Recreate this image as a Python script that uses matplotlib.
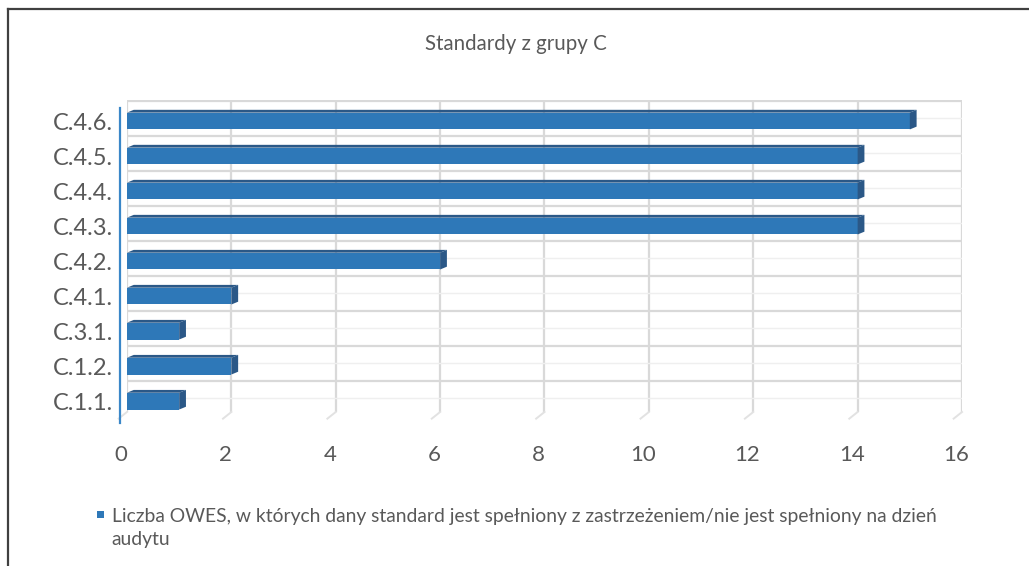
import numpy as np
import matplotlib.pyplot as plt
import matplotlib.transforms as mtransforms
from matplotlib.patches import Polygon, Rectangle
from matplotlib.lines import Line2D

categories = ["C.1.1.", "C.1.2.", "C.3.1.", "C.4.1.", "C.4.2.", "C.4.3.", "C.4.4.", "C.4.5.", "C.4.6."]
counts = [1, 2, 1, 2, 6, 14, 14, 14, 15]
x_ticks = [0, 2, 4, 6, 8, 10, 12, 14, 16]
title = "Standardy z grupy C"
legend_text = ("Liczba OWES, w których dany standard jest spełniony z zastrzeżeniem/nie jest spełniony na dzień\n"
               "audytu")

plt.rcParams["font.family"] = ["Lato", "DejaVu Sans"]
TEXT = "#595959"
BAR = "#2e78b8"
BAR_DARK = "#2b5887"
GRID = "#d9d9d9"

fig = plt.figure(figsize=(10.29, 5.66), dpi=100)
ax = fig.add_axes([0.1234, 0.2721, 0.8115, 0.5512])

y = np.arange(len(categories))
h = 0.48
dx, dy = 0.13, 0.08  # depth of the fake 3D bar faces

ax.barh(y, counts, height=h, color=BAR, zorder=3)
for yi, v in zip(y, counts):
    top = Polygon([(0, yi + h / 2), (v, yi + h / 2), (v + dx, yi + h / 2 + dy), (dx, yi + h / 2 + dy)],
                  closed=True, facecolor=BAR_DARK, edgecolor="none", zorder=3)
    side = Polygon([(v, yi - h / 2), (v, yi + h / 2), (v + dx, yi + h / 2 + dy), (v + dx, yi - h / 2 + dy)],
                   closed=True, facecolor=BAR_DARK, edgecolor="none", zorder=3)
    ax.add_patch(top)
    ax.add_patch(side)

ax.set_xlim(0, 16)
ax.set_ylim(-0.31, 8.6)

# back wall grid plus short floor edges
for xt in x_ticks:
    ax.axvline(xt, color=GRID, lw=1.6, zorder=1)
    ax.plot([xt, xt - 0.16], [-0.31, -0.5], color="#e2e2e2", lw=1.4, clip_on=False, zorder=1)
for b in np.arange(-0.5, len(categories)):
    ax.axhline(b + 0.08, color=GRID, lw=1.6, zorder=1)
    ax.axhline(b + 0.58, color="#efefef", lw=1.0, zorder=1)

ax.set_xticks(x_ticks)
ax.set_xticklabels([str(t) for t in x_ticks])
ax.set_yticks(y)
ax.set_yticklabels(categories)
ax.tick_params(axis="x", length=0, pad=24, labelsize=16, labelcolor=TEXT)
ax.tick_params(axis="y", length=0, pad=5, labelsize=17, labelcolor=TEXT)

# x labels sit a little to the left, as on a tilted floor
shift = mtransforms.ScaledTranslation(-6 / 100, 0, fig.dpi_scale_trans)
for lbl in ax.get_xticklabels():
    lbl.set_transform(lbl.get_transform() + shift)

for s in ["top", "right", "bottom"]:
    ax.spines[s].set_visible(False)
ax.spines["left"].set_color("#3a87c8")
ax.spines["left"].set_linewidth(1.6)
ax.spines["left"].set_position(("outward", 5))
ax.spines["left"].set_bounds(-0.63, 8.37)

fig.text(0.5015, 0.923, title, ha="center", va="center", fontsize=14.8, color=TEXT)

# legend
fig.patches.append(Rectangle((0.0943, 0.0848), 0.0068, 0.0124, transform=fig.transFigure,
                             facecolor=BAR, edgecolor="none"))
fig.text(0.1085, 0.1025, legend_text, ha="left", va="top", fontsize=13.9, color=TEXT, linespacing=1.45)

# chart border
fig.add_artist(Line2D([0.0078, 1.0], [0.984, 0.984], transform=fig.transFigure, color="#404040", lw=1.6))
fig.add_artist(Line2D([0.0078, 0.0078], [0.0, 0.984], transform=fig.transFigure, color="#404040", lw=1.6))

fig.savefig("out.png", dpi=100)
